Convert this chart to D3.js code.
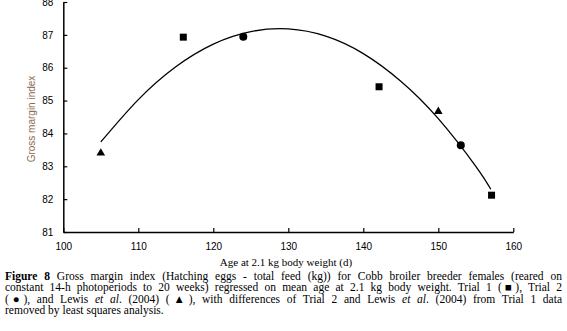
<!DOCTYPE html>
<html lang="en">
<head>
<meta charset="UTF-8" />
<title>Gross margin index</title>
<style>
  body { margin: 0; background: #fff; width: 567px; height: 331px; overflow: hidden; position: relative; }
  svg { position: absolute; left: 0; top: 0; }
  #caption {
    position: absolute; left: 5px; top: 271px; width: 557px;
    font-family: "Liberation Serif", "DejaVu Serif", serif;
    font-size: 11.5px; color: #000;
  }
  #caption div { height: 11.4px; line-height: 11.4px; text-align: justify; text-align-last: justify; white-space: nowrap; }
  #caption div.last { text-align-last: left; }
</style>
</head>
<body>
<div id="chart"></div>
<div id="caption">
  <div><b>Figure 8</b> Gross margin index (Hatching eggs - total feed (kg)) for Cobb broiler breeder females (reared on</div>
  <div>constant 14-h photoperiods to 20 weeks) regressed on mean age at 2.1 kg body weight. Trial 1 (&#9632;), Trial 2</div>
  <div>(&#9679;), and Lewis <i>et al</i>. (2004) (&#9650;), with differences of Trial 2 and Lewis <i>et al</i>. (2004) from Trial 1 data</div>
  <div class="last">removed by least squares analysis.</div>
</div>
<script src="https://cdn.jsdelivr.net/npm/d3@7"></script>
<script>
// observed points
var trial1 = [[116, 86.93], [142.1, 85.42], [157.1, 82.12]];
var trial2 = [[124, 86.94], [153, 83.64]];
var lewis = [[105, 83.40], [150, 84.67]];

// fitted regression curve
var curveAge = [105, 110, 115, 120, 125, 130, 135, 140, 145, 150, 155, 157];
var curveIdx = [83.74, 85.03, 86.03, 86.72, 87.10, 87.18, 86.96, 86.43, 85.59, 84.45, 83.00, 82.30];

var xTicks = [100, 110, 120, 130, 140, 150, 160];
var yTicks = [81, 82, 83, 84, 85, 86, 87, 88];

var w = 567, h = 331;
var serif = "'Liberation Serif', 'DejaVu Serif', serif";

var svg = d3.select("#chart").append("svg")
  .attr("width", w)
  .attr("height", h);

var xScale = d3.scaleLinear().domain([100, 160]).range([63.3, 513.3]);
var yScale = d3.scaleLinear().domain([81, 88]).range([232, 2]);

// x axis
var xAxis = d3.axisBottom(xScale)
  .tickValues(xTicks)
  .tickFormat(d3.format("d"))
  .tickSizeInner(-4)
  .tickSizeOuter(0)
  .tickPadding(11);
svg.append("g")
  .attr("transform", "translate(0,232)")
  .attr("font-family", serif)
  .attr("font-size", 10.5)
  .call(xAxis);

// y axis
var yAxis = d3.axisLeft(yScale)
  .tickValues(yTicks)
  .tickFormat(d3.format("d"))
  .tickSizeInner(-4)
  .tickSizeOuter(0)
  .tickPadding(10);
svg.append("g")
  .attr("transform", "translate(63.3,0)")
  .attr("font-family", serif)
  .attr("font-size", 10.5)
  .call(yAxis);

svg.selectAll(".domain").attr("stroke", "#000").attr("stroke-width", 1.5);
svg.selectAll(".tick line").attr("stroke", "#000").attr("stroke-width", 1.2);
svg.selectAll(".tick text").attr("fill", "#000");

// axis titles
svg.append("text")
  .attr("x", 286)
  .attr("y", 266)
  .attr("text-anchor", "middle")
  .attr("font-family", serif)
  .attr("font-size", 11)
  .text("Age at 2.1 kg body weight (d)");

svg.append("text")
  .attr("transform", "translate(35,119) rotate(-90)")
  .attr("text-anchor", "middle")
  .attr("font-family", "'Liberation Sans Narrow', 'Arial Narrow', 'Liberation Sans', sans-serif")
  .attr("font-size", 10)
  .attr("fill", "#8a6a4e")
  .text("Gross margin index");

// regression curve
var line = d3.line()
  .x(function(d) { return xScale(d); })
  .y(function(d, i) { return yScale(curveIdx[i]); })
  .curve(d3.curveNatural);

svg.append("path")
  .datum(curveAge)
  .attr("d", line)
  .attr("fill", "none")
  .attr("stroke", "#000")
  .attr("stroke-width", 1.3);

// markers
svg.selectAll("rect.t1")
  .data(trial1)
  .enter().append("rect")
  .attr("class", "t1")
  .attr("x", function(d) { return xScale(d[0]) - 3.5; })
  .attr("y", function(d) { return yScale(d[1]) - 3.5; })
  .attr("width", 7)
  .attr("height", 7)
  .attr("fill", "#000");

svg.selectAll("circle.t2")
  .data(trial2)
  .enter().append("circle")
  .attr("class", "t2")
  .attr("cx", function(d) { return xScale(d[0]); })
  .attr("cy", function(d) { return yScale(d[1]); })
  .attr("r", 4)
  .attr("fill", "#000");

svg.selectAll("path.lw")
  .data(lewis)
  .enter().append("path")
  .attr("class", "lw")
  .attr("d", d3.symbol().type(d3.symbolTriangle).size(32))
  .attr("transform", function(d) { return "translate(" + xScale(d[0]) + "," + yScale(d[1]) + ")"; })
  .attr("fill", "#000");
</script>
</body>
</html>
